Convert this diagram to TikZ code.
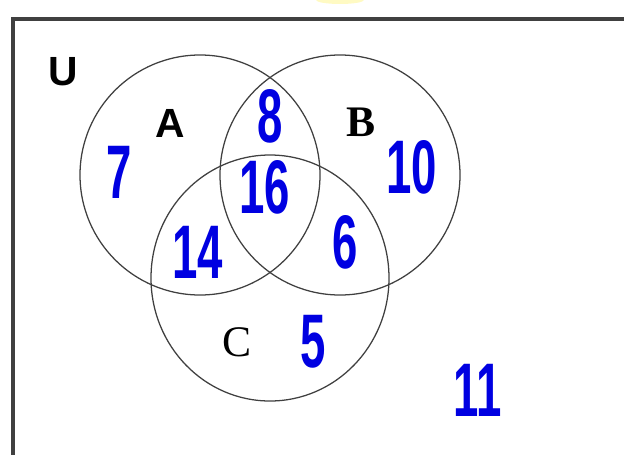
\documentclass[tikz,border=0pt]{standalone}
\usepackage{fontspec}
\setmainfont{Liberation Serif}
\setsansfont{Liberation Sans}
\newfontfamily\penfont[FakeStretch=0.6]{Liberation Sans}
\usepackage{tikz}
\usetikzlibrary{positioning}
\definecolor{penblue}{RGB}{0,0,225}
\definecolor{framegrey}{RGB}{64,64,64}
\definecolor{markyellow}{RGB}{255,250,195}

\begin{document}
\begin{tikzpicture}[
    x=0.025cm, y=-0.025cm,
    setline/.style={draw=black!75, line width=0.9pt},
    setname/.style={inner sep=0pt, font=\sffamily\bfseries\fontsize{29}{29}\selectfont},
    count/.style={inner sep=0pt, text=penblue, font=\penfont\bfseries\fontsize{54}{54}\selectfont}
]
    \useasboundingbox (0,0) rectangle (624,454);
    \clip (0,0) rectangle (624,454);

    % scrap of highlight at the top edge
    \fill[markyellow] (340,0) ellipse (24 and 4);

    % universe
    \draw[framegrey, line width=2.2pt] (13,19) rectangle (660,490);

    % the three sets
    \draw[setline] (200,175) circle (120);
    \draw[setline] (340,175) circle (120);
    \draw[setline] (270,278) ellipse (119 and 123);

    \node[setname] (u) at (63,72) {U};
    \node[setname] (a) at (170,123) {A};
    \node[setname, font=\rmfamily\bfseries\fontsize{31}{31}\selectfont] (b) at (361,122) {B};
    \node[setname, font=\rmfamily\fontsize{31}{31}\selectfont] (c) at (237,342) {C};

    % counts
    \node[count] (onlya) at (119,172) {7};
    \node[count] (ab) at (270,116) {8};
    \node[count] (onlyb) at (412,167) {10};
    \node[count] (abc) at (265,187) {16};
    \node[count] (ac) at (198,252) {14};
    \node[count] (bc) at (345,242) {6};
    \node[count] (onlyc) at (313,342) {5};
    \node[count] (none) at (478,390) {11};
\end{tikzpicture}
\end{document}
